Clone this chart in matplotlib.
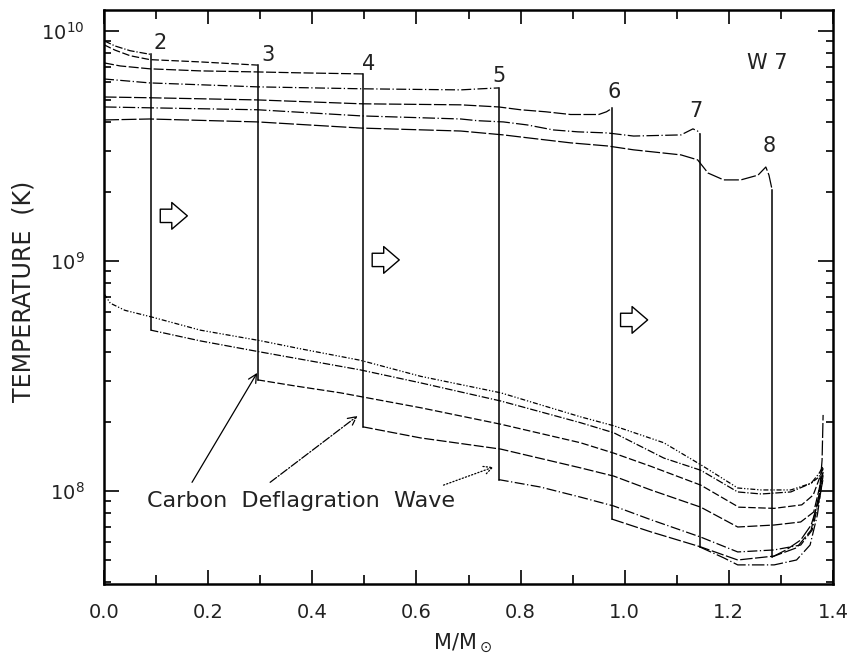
import matplotlib
matplotlib.use('Agg')
import matplotlib.pyplot as plt
from matplotlib.ticker import FixedLocator, FormatStrFormatter

# W7 temperature profiles
# profile 1 is the initial model (no burnt core), 2..8 have a burnt core
# inside the deflagration front and cold fuel outside it

# burnt core, M/Msun and T (K)
m_hot_2 = [0.0, 0.021, 0.05, 0.09]
t_hot_2 = [9.06e9, 8.6e9, 8.2e9, 7.9e9]
m_hot_3 = [0.0, 0.021, 0.05, 0.088, 0.185, 0.295]
t_hot_3 = [8.7e9, 8.25e9, 7.8e9, 7.5e9, 7.33e9, 7.1e9]
m_hot_4 = [0.0, 0.031, 0.088, 0.185, 0.295, 0.377, 0.497]
t_hot_4 = [7.26e9, 7.04e9, 6.84e9, 6.70e9, 6.63e9, 6.57e9, 6.50e9]
m_hot_5 = [0.0, 0.088, 0.295, 0.497, 0.685, 0.723, 0.758]
t_hot_5 = [6.18e9, 5.94e9, 5.71e9, 5.60e9, 5.54e9, 5.60e9, 5.65e9]
m_hot_6 = [0.0, 0.088, 0.295, 0.494, 0.685, 0.758, 0.8, 0.848, 0.896, 0.95, 0.965, 0.975]
t_hot_6 = [5.16e9, 5.12e9, 5.01e9, 4.82e9, 4.77e9, 4.67e9, 4.54e9, 4.45e9, 4.33e9, 4.33e9, 4.45e9, 4.6e9]
m_hot_7 = [0.0, 0.088, 0.295, 0.494, 0.685, 0.717, 0.767, 0.813, 0.863, 0.91, 0.967,
           1.017, 1.108, 1.131, 1.14, 1.144]
t_hot_7 = [4.67e9, 4.63e9, 4.54e9, 4.27e9, 4.14e9, 4.07e9, 4.02e9, 3.90e9, 3.71e9, 3.64e9, 3.60e9,
           3.49e9, 3.53e9, 3.75e9, 3.67e9, 3.56e9]
m_hot_8 = [0.0, 0.088, 0.295, 0.494, 0.685, 0.767, 0.813, 0.896, 0.967, 1.017, 1.108, 1.14,
           1.16, 1.19, 1.223, 1.256, 1.271, 1.277, 1.283]
t_hot_8 = [4.10e9, 4.14e9, 4.02e9, 3.78e9, 3.67e9, 3.53e9, 3.43e9, 3.26e9, 3.16e9, 3.04e9, 2.89e9, 2.75e9,
           2.41e9, 2.25e9, 2.25e9, 2.36e9, 2.56e9, 2.36e9, 2.04e9]

# unburnt matter outside the front
m_cold_1 = [0.0, 0.012, 0.04, 0.092, 0.185, 0.30, 0.377, 0.492, 0.608, 0.762, 0.915, 0.979,
            1.075, 1.146, 1.217, 1.262, 1.319, 1.358, 1.373, 1.381]
t_cold_1 = [7.2e8, 6.55e8, 6.1e8, 5.7e8, 5.0e8, 4.5e8, 4.15e8, 3.7e8, 3.15e8, 2.67e8, 2.1e8, 1.92e8,
            1.62e8, 1.3e8, 1.03e8, 1.01e8, 1.01e8, 1.08e8, 1.15e8, 1.25e8]
m_cold_2 = [0.09, 0.185, 0.30, 0.492, 0.608, 0.762, 0.915, 0.979, 1.075, 1.146, 1.217, 1.262,
            1.319, 1.358, 1.373, 1.381]
t_cold_2 = [5.0e8, 4.49e8, 4.02e8, 3.36e8, 2.95e8, 2.46e8, 1.98e8, 1.79e8, 1.39e8, 1.23e8, 9.9e7, 9.7e7,
            9.9e7, 1.08e8, 1.19e8, 1.28e8]
m_cold_3 = [0.295, 0.367, 0.454, 0.608, 0.762, 0.915, 0.979, 1.05, 1.146, 1.219, 1.287, 1.34,
            1.362, 1.373, 1.381]
t_cold_3 = [3.04e8, 2.86e8, 2.67e8, 2.30e8, 1.95e8, 1.62e8, 1.46e8, 1.28e8, 1.06e8, 8.5e7, 8.4e7, 8.7e7,
            9.6e7, 1.12e8, 1.26e8]
m_cold_4 = [0.497, 0.608, 0.762, 0.915, 0.979, 1.05, 1.146, 1.217, 1.287, 1.338, 1.363, 1.373, 1.381]
t_cold_4 = [1.90e8, 1.70e8, 1.52e8, 1.26e8, 1.16e8, 1.01e8, 8.5e7, 6.97e7, 7.11e7, 7.33e7, 8.1e7,
            1.01e8, 1.23e8]
m_cold_5 = [0.758, 0.838, 0.915, 0.979, 1.05, 1.146, 1.217, 1.287, 1.338, 1.36, 1.373, 1.381]
t_cold_5 = [1.12e8, 1.04e8, 9.4e7, 8.6e7, 7.5e7, 6.3e7, 5.43e7, 5.54e7, 5.82e7, 6.76e7, 9.1e7, 1.13e8]
m_cold_6 = [0.975, 1.05, 1.146, 1.217, 1.287, 1.33, 1.358, 1.373, 1.381]
t_cold_6 = [7.55e7, 6.64e7, 5.71e7, 5.01e7, 5.21e7, 5.66e7, 6.76e7, 9.6e7, 1.21e8]
m_cold_7 = [1.144, 1.19, 1.217, 1.287, 1.33, 1.356, 1.37, 1.381]
t_cold_7 = [5.71e7, 5.12e7, 4.77e7, 4.77e7, 5.01e7, 5.82e7, 7.87e7, 1.17e8]
m_cold_8 = [1.283, 1.31, 1.338, 1.358, 1.373, 1.379, 1.381]
t_cold_8 = [5.16e7, 5.54e7, 6.12e7, 7.11e7, 9.14e7, 1.36e8, 2.14e8]

profile_names = ['1', '2', '3', '4', '5', '6', '7', '8']
x_ticks = [0.0, 0.2, 0.4, 0.6, 0.8, 1.0, 1.2, 1.4]

hot = {'2': (m_hot_2, t_hot_2), '3': (m_hot_3, t_hot_3), '4': (m_hot_4, t_hot_4),
       '5': (m_hot_5, t_hot_5), '6': (m_hot_6, t_hot_6), '7': (m_hot_7, t_hot_7),
       '8': (m_hot_8, t_hot_8)}
cold = {'1': (m_cold_1, t_cold_1), '2': (m_cold_2, t_cold_2), '3': (m_cold_3, t_cold_3),
        '4': (m_cold_4, t_cold_4), '5': (m_cold_5, t_cold_5), '6': (m_cold_6, t_cold_6),
        '7': (m_cold_7, t_cold_7), '8': (m_cold_8, t_cold_8)}

# dash patterns of the old plotter
styles = {'1': (0, (4, 1.5, 1, 1.5, 1, 1.5)), '2': (0, (6, 1.5, 1, 1.5)), '3': (0, (6, 2)),
          '4': (0, (8, 2)), '5': (0, (8, 2, 1, 2)), '6': (0, (10, 2)),
          '7': (0, (10, 2, 1, 2)), '8': (0, (12, 2))}
# where the profile numbers sit (M, T)
label_pos = {'2': (0.108, 8.87e9), '3': (0.315, 7.87e9), '4': (0.508, 7.2e9), '5': (0.758, 6.37e9),
             '6': (0.979, 5.43e9), '7': (1.137, 4.49e9), '8': (1.277, 3.16e9)}

txt = '#222222'
fig = plt.figure(figsize=(8.52, 6.64), dpi=100)
ax = fig.add_axes([0.1221, 0.1205, 0.8556, 0.8645])
ax.set_yscale('log')

for name in profile_names:
    mc, tc = cold[name]
    ax.plot(mc, tc, color='k', lw=0.9, ls=styles[name])
    if name in hot:
        mh, th = hot[name]
        ax.plot(mh, th, color='k', lw=0.9, ls=styles[name])
        # the front itself: vertical drop from burnt to unburnt
        ax.plot([mh[-1], mc[0]], [th[-1], tc[0]], color='k', lw=1.1)
        lx, ly = label_pos[name]
        ax.text(lx, ly, name, fontsize=15, ha='center', va='center', color=txt)

ax.text(1.273, 7.26e9, 'W 7', fontsize=15, ha='center', va='center', color=txt)

# open arrows showing the front moving outwards
for x0, y0 in [(0.108, 1.57e9), (0.515, 1.01e9), (0.992, 5.54e8)]:
    ax.annotate('', xy=(x0 + 0.052, y0), xytext=(x0, y0),
                arrowprops=dict(arrowstyle='simple,head_length=0.7,head_width=1.2,tail_width=0.6',
                                fc='white', ec='k', lw=1.0, mutation_scale=16, shrinkA=0, shrinkB=0))

ax.text(0.083, 9.06e7, 'Carbon  Deflagration  Wave', fontsize=16, ha='left', va='center', color=txt)
for tail, head, ls in [((0.169, 1.09e8), (0.294, 3.26e8), '-'),
                       ((0.319, 1.09e8), (0.487, 2.12e8), '-.'),
                       ((0.652, 1.06e8), (0.748, 1.27e8), ':')]:
    ax.annotate('', xy=head, xytext=tail,
                arrowprops=dict(arrowstyle='->,head_length=0.6,head_width=0.3', color='k',
                                lw=0.9, ls=ls, shrinkA=0, shrinkB=0))

ax.set_xlim(0, 1.4)
ax.set_ylim(3.94e7, 1.233e10)
ax.xaxis.set_major_locator(FixedLocator(x_ticks))
ax.xaxis.set_minor_locator(FixedLocator([0.1, 0.3, 0.5, 0.7, 0.9, 1.1, 1.3]))
ax.xaxis.set_major_formatter(FormatStrFormatter('%.1f'))

ax.tick_params(which='both', direction='in', top=True, right=True, width=1.2, colors='k',
               labelcolor=txt, labelsize=14)
ax.tick_params(axis='x', which='major', length=10, pad=14)
ax.tick_params(axis='x', which='minor', length=6.5)
ax.tick_params(axis='y', which='major', length=11, pad=14)
ax.tick_params(axis='y', which='minor', length=5)
for sp in ax.spines.values():
    sp.set_linewidth(1.8)

fig.text(0.028, 1 - 291 / 664, 'TEMPERATURE  (K)', rotation=90, ha='center', va='center',
         fontsize=17, color=txt)
fig.text(462 / 852, 1 - 643 / 664, r'M/M$_\odot$', ha='center', va='center', fontsize=15, color=txt)

fig.savefig('out.png', dpi=100)
